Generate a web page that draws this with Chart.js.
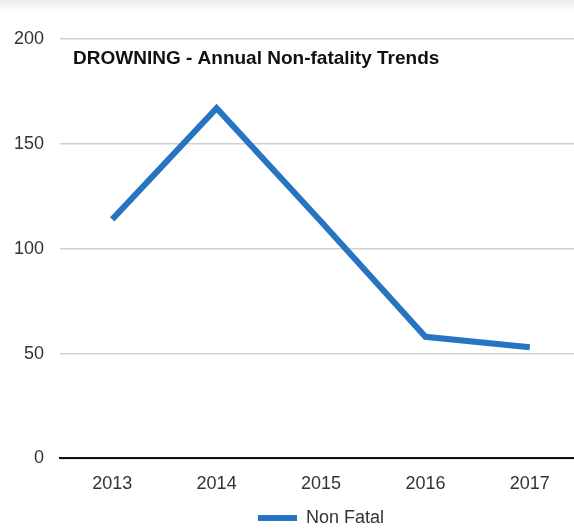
<!DOCTYPE html>
<html>
<head>
<meta charset="utf-8">
<script src="https://cdn.jsdelivr.net/npm/chart.js@4"></script>
<style>
  html, body { margin: 0; padding: 0; overflow: hidden; background: #fff; }
  body { background: linear-gradient(#ececec 0px, #f6f6f6 6px, #fff 12px); }
  #wrap { width: 582px; height: 537px; }
</style>
</head>
<body>
<div id="wrap"><canvas id="myChart" width="582" height="537"></canvas></div>
<script>
const years = ["2013", "2014", "2015", "2016", "2017"];
const nonFatal = [114, 167, 113, 58, 53];
const chartTitle = "DROWNING - Annual Non-fatality Trends";
const seriesName = "Non Fatal";

const lineBlue = "#2774c3";
const fontFam = "'Liberation Sans', Arial, sans-serif";

// title sits inside the plot, top left
const innerTitle = {
    id: "innerTitle",
    afterDraw(chart) {
        const ctx = chart.ctx;
        const area = chart.chartArea;
        ctx.save();
        ctx.font = "bold 19px " + fontFam;
        ctx.fillStyle = "#111";
        ctx.textBaseline = "middle";
        ctx.fillText(chartTitle, area.left + 13, area.top + 20);
        ctx.restore();
    }
};

const ctx = document.getElementById('myChart');
new Chart(ctx, {
    type: 'line',
    data: {
        labels: years,
        datasets: [{
            label: seriesName,
            data: nonFatal,
            borderColor: lineBlue,
            backgroundColor: lineBlue,
            borderWidth: 6,
            borderJoinStyle: "miter",
            pointRadius: 0,
            tension: 0
        }]
    },
    options: {
        responsive: false,
        animation: false,
        layout: { padding: { top: 39, left: -2, right: 0, bottom: 0 } },
        scales: {
            y: {
                min: 0,
                max: 200,
                ticks: {
                    stepSize: 50,
                    color: "#333",
                    padding: 16,
                    font: { family: fontFam, size: 18 }
                },
                grid: { color: "#cfcfcf", lineWidth: 1.5, drawTicks: false },
                border: { display: false }
            },
            x: {
                offset: true,
                ticks: {
                    color: "#333",
                    padding: 15,
                    font: { family: fontFam, size: 18 }
                },
                grid: { display: false, drawTicks: false },
                border: { color: "#111", width: 2 },
                afterFit(scale) { scale.height -= 5; }
            }
        },
        plugins: {
            tooltip: { enabled: false },
            legend: {
                position: "bottom",
                fullSize: false,
                labels: {
                    boxWidth: 39,
                    boxHeight: 6,
                    padding: 4,
                    color: "#333",
                    font: { family: fontFam, size: 18 },
                    generateLabels(chart) {
                        return chart.data.datasets.map((ds, i) => ({
                            text: ds.label,
                            fillStyle: ds.borderColor,
                            strokeStyle: ds.borderColor,
                            lineWidth: 0,
                            fontColor: "#333",
                            datasetIndex: i
                        }));
                    }
                }
            }
        }
    },
    plugins: [innerTitle]
});
</script>
</body>
</html>
